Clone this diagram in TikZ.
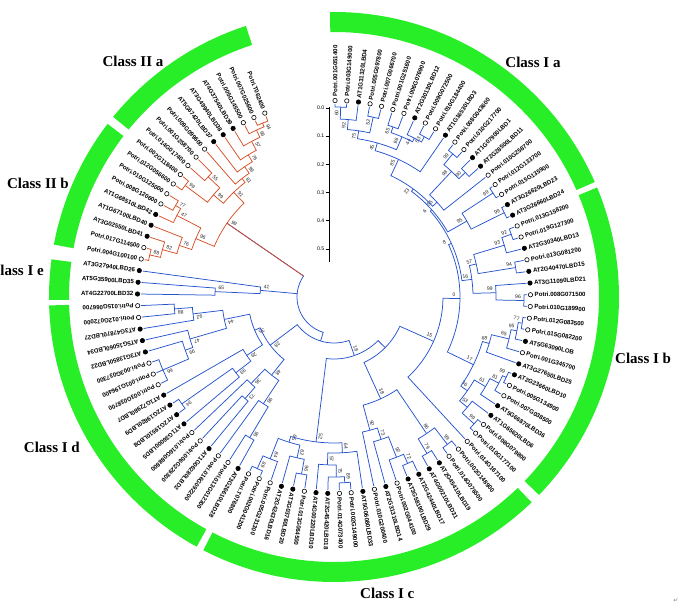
\documentclass[tikz,border=0pt]{standalone}
\usepackage{fontspec}
\setmainfont{Liberation Serif}
\setsansfont{Liberation Sans}
\newfontfamily\djv{DejaVu Sans}
\definecolor{bluebr}{RGB}{38,84,205}
\definecolor{redbr}{RGB}{214,78,38}
\definecolor{ringgreen}{RGB}{40,238,40}
\colorlet{k}{black}
\colorlet{w}{white}

\newcommand\leafn[3]{%
  \pgfmathsetmacro\lfA{89.7-(#1-1)*3.425}%
  \expandafter\xdef\csname ang@L#1\endcsname{\lfA}%
  \expandafter\xdef\csname rad@L#1\endcsname{193}%
  \ifdim\lfA pt<-180pt
    \pgfmathsetmacro\lfR{\lfA+180}\def\lfN{east}%
  \else
    \let\lfR\lfA\def\lfN{west}%
  \fi
  \node[leaf, rotate=\lfR, anchor=\lfN] (t#1) at (\lfA:200.5pt) {#3};%
  \node[mk, fill=#2] (m#1) at (\lfA:196.5pt) {};%
}

\newcommand\clade[5]{%
  \edef\clA{\csname ang@#4\endcsname}%
  \edef\clB{\csname ang@#5\endcsname}%
  \edef\clRA{\csname rad@#4\endcsname}%
  \edef\clRB{\csname rad@#5\endcsname}%
  \pgfmathsetmacro\clM{(\clA+\clB)/2}%
  \expandafter\xdef\csname ang@#1\endcsname{\clM}%
  \expandafter\xdef\csname rad@#1\endcsname{#2}%
  \draw[br] (\clA:\clRA pt) -- (\clA:#2pt) arc[start angle=\clA, end angle=\clB, radius=#2pt] -- (\clB:\clRB pt);%
  \coordinate (#1) at (\clM:#2pt);%
  \pgfmathsetmacro\clR{#2-6}%
  \ifdim\clM pt<-180pt
    \pgfmathsetmacro\clL{\clM-230/#2}\pgfmathsetmacro\clO{\clL+180}%
  \else
    \pgfmathsetmacro\clL{\clM+230/#2}\let\clO\clL
  \fi
  \node[boot, rotate=\clO] (b#1) at (\clL:\clR pt) {#3};%
}

\newcommand\mch[2]{%
  \edef\mcA{\csname ang@#2\endcsname}%
  \edef\mcR{\csname rad@#2\endcsname}%
  \edef\mcP{\csname rad@#1\endcsname}%
  \draw[br] (\mcA:\mcP pt) -- (\mcA:\mcR pt);%
}

\newcommand\ringseg[2]{%
  \fill[ringgreen] (#1:265pt) arc[start angle=#1, end angle=#2, radius=265pt] -- (#2:285pt) arc[start angle=#2, end angle=#1, radius=285pt] -- cycle;%
}

\begin{document}
\begin{tikzpicture}[x=1pt,y=1pt,
  leaf/.style={font=\sffamily\bfseries\fontsize{6.1}{7}\selectfont, inner sep=0pt},
  mk/.style={circle, draw=black, line width=0.6pt, inner sep=0pt, minimum size=4.4pt},
  boot/.style={font=\sffamily\fontsize{5.1}{5.5}\selectfont, inner sep=0pt, text=black!85},
  br/.style={draw=bluebr, line width=0.75pt},
  cls/.style={font=\rmfamily\bfseries\fontsize{15}{18}\selectfont, inner sep=0pt},
  scl/.style={font=\sffamily\fontsize{5.2}{6}\selectfont, inner sep=0.5pt}]
\useasboundingbox (0,0) rectangle (681,610);

\begin{scope}[shift={(334,313)}]
% ---- class ring ----
\ringseg{108.0}{140.8}
\ringseg{142.6}{169.4}
\ringseg{172.4}{180.6}
\ringseg{181.7}{241.2}
\ringseg{242.7}{313.9}
\ringseg{316.0}{382.6}
\ringseg{383.8}{450.8}

% ---- leaves ----
\leafn{1}{w}{Potri.001G051400}
\leafn{2}{w}{Potri.003G149000}
\leafn{3}{k}{AT1G31320LBD4}
\leafn{4}{w}{Potri.005G097800}
\leafn{5}{w}{Potri.007G066700}
\leafn{6}{w}{Potri.001G251600}
\leafn{7}{w}{Potri.006G076900}
\leafn{8}{k}{AT2G30130LBD12}
\leafn{9}{w}{Potri.009G072500}
\leafn{10}{w}{Potri.010G184400}
\leafn{11}{k}{AT1G16530LBD3}
\leafn{12}{w}{Potri.008G043600}
\leafn{13}{w}{Potri.010G217700}
\leafn{14}{k}{AT1G07900LBD1}
\leafn{15}{k}{AT2G28500LBD11}
\leafn{16}{w}{Potri.010G258700}
\leafn{17}{w}{Potri.012G133700}
\leafn{18}{w}{Potri.015G135900}
\leafn{19}{k}{AT3G26620LBD23}
\leafn{20}{k}{AT3G26660LBD24}
\leafn{21}{w}{Potri.013G158200}
\leafn{22}{w}{Potri.019G127300}
\leafn{23}{k}{AT2G30340LBD13}
\leafn{24}{w}{Potri.013G081200}
\leafn{25}{k}{AT2G40470LBD15}
\leafn{26}{k}{AT3G11090LBD21}
\leafn{27}{w}{Potri.008G071500}
\leafn{28}{w}{Potri.010G189900}
\leafn{29}{w}{Potri.012G083500}
\leafn{30}{w}{Potri.015G082200}
\leafn{31}{k}{AT5G63090LOB}
\leafn{32}{w}{Potri.001G345700}
\leafn{33}{k}{AT3G27650LBD25}
\leafn{34}{k}{AT2G23660LBD10}
\leafn{35}{w}{Potri.005G134900}
\leafn{36}{w}{Potri.007G038500}
\leafn{37}{k}{AT5G66870LBD36}
\leafn{38}{k}{AT1G65620LBD6}
\leafn{39}{w}{Potri.008G079800}
\leafn{40}{w}{Potri.010G177100}
\leafn{41}{w}{Potri.014G167100}
\leafn{42}{w}{Potri.002G148900}
\leafn{43}{w}{Potri.014G076500}
\leafn{44}{k}{AT2G45410LBD19}
\leafn{45}{k}{AT4G00210LBD31}
\leafn{46}{k}{AT2G42440LBD17}
\leafn{47}{k}{AT3G58190LBD29}
\leafn{48}{w}{Potri.002G044100}
\leafn{49}{k}{AT2G31310LBD14}
\leafn{50}{w}{Potri.010G200400}
\leafn{51}{k}{AT5G06080LBD33}
\leafn{52}{w}{Potri.002G149000}
\leafn{53}{w}{Potri.014G073400}
\leafn{54}{k}{AT2G45420LBD18}
\leafn{55}{k}{AT4G00220LBD30}
\leafn{56}{w}{Potri.013G064500}
\leafn{57}{k}{AT3G03760LBD20}
\leafn{58}{k}{AT2G42430LBD16}
\leafn{59}{w}{Potri.005G231300}
\leafn{60}{w}{Potri.002G041200}
\leafn{61}{w}{Potri.T076800}
\leafn{62}{k}{AT3G26610LBD28}
\leafn{63}{w}{Potri.013G012300}
\leafn{64}{w}{Potri.016G092200}
\leafn{65}{k}{AT1G06280LBD2}
\leafn{66}{w}{Potri.006G229300}
\leafn{67}{w}{Potri.016G088800}
\leafn{68}{k}{AT1G36000LBD5}
\leafn{69}{k}{AT2G19510LBD8}
\leafn{70}{k}{AT2G19820LBD9}
\leafn{71}{k}{AT1G72980LBD7}
\leafn{72}{w}{Potri.003G038700}
\leafn{73}{w}{Potri.001G196400}
\leafn{74}{w}{Potri.003G037300}
\leafn{75}{k}{AT3G13850LBD22}
\leafn{76}{k}{AT5G15060LBD34}
\leafn{77}{k}{AT3G47870LBD27}
\leafn{78}{w}{Potri.012G072000}
\leafn{79}{w}{Potri.015G066700}
\leafn{80}{k}{AT4G22700LBD32}
\leafn{81}{k}{AT5G35900LBD35}
\leafn{82}{k}{AT3G27940LBD26}
\leafn{83}{w}{Potri.004G100100}
\leafn{84}{w}{Potri.017G114500}
\leafn{85}{k}{AT3G02550LBD41}
\leafn{86}{k}{AT1G67100LBD40}
\leafn{87}{k}{AT1G68510LBD42}
\leafn{88}{w}{Potri.008G120600}
\leafn{89}{w}{Potri.010G125000}
\leafn{90}{w}{Potri.012G056600}
\leafn{91}{w}{Potri.002G118400}
\leafn{92}{w}{Potri.014G017400}
\leafn{93}{w}{Potri.001G258700}
\leafn{94}{w}{Potri.009G099600}
\leafn{95}{k}{AT5G67420LBD37}
\leafn{96}{k}{AT3G49940LBD38}
\leafn{97}{k}{AT4G37540LBD39}
\leafn{98}{w}{Potri.005G145500}
\leafn{99}{w}{Potri.007G025600}
\leafn{100}{w}{Potri.T062400}

% ---- Class I a / I b ----
\clade{c1}{190}{60}{L1}{L2}
\clade{c2}{178}{92}{c1}{L3}
\clade{c3}{184}{52}{L4}{L5}
\clade{c4}{168}{75}{c2}{c3}
\clade{c5}{180}{65}{L6}{L7}
\clade{c6}{184}{53}{L9}{L10}
\clade{c7}{178}{44}{L8}{c6}
\clade{c8}{174}{96}{c5}{c7}
\clade{c9}{160}{45}{c4}{c8}
\clade{n85}{152}{85}{c9}{L11}
\clade{c10}{186}{99}{L12}{L13}
\clade{c11}{181}{90}{L14}{L15}
\clade{c12}{172}{98}{c10}{c11}
\clade{n6}{140}{55}{c12}{L16}
\clade{n23}{134}{23}{n85}{n6}
\clade{c13}{190}{99}{L17}{L18}
\clade{c14}{190}{99}{L19}{L20}
\clade{c15}{153}{95}{c13}{c14}
\clade{g2}{131}{6}{n23}{c15}
\clade{c16}{188}{92}{L21}{L22}
\clade{c17}{178}{93}{c16}{L23}
\clade{c18}{184}{94}{L24}{L25}
\clade{c19}{146}{57}{c17}{c18}
\clade{c20}{190}{96}{L27}{L28}
\clade{c21}{162}{99}{L26}{c20}
\clade{c22}{139}{16}{c19}{c21}
\clade{g3}{129}{8}{g2}{c22}
\clade{c23}{190}{77}{L29}{L30}
\clade{c24}{186}{95}{c23}{L31}
\clade{c25}{180}{65}{c24}{L32}
\clade{c26}{162}{68}{c25}{L33}
\clade{c27}{190}{99}{L34}{L35}
\clade{c28}{186}{81}{c27}{L36}
\clade{c29}{176}{61}{c28}{L37}
\clade{c30}{189}{99}{L39}{L40}
\clade{c31}{173}{53}{L38}{c30}
\clade{c32}{163}{36}{c29}{c31}
\clade{c33}{155}{17}{c26}{c32}
\clade{Iab}{126}{0}{g3}{c33}
\clade{n15}{109}{15}{Iab}{L41}

% ---- Class I c ----
\clade{a1}{186}{99}{L42}{L43}
\clade{a2}{182}{79}{L44}{L45}
\clade{a3}{165}{86}{a1}{a2}
\clade{a4}{182}{72}{L46}{L47}
\clade{a5}{172}{92}{a4}{L48}
\clade{a7}{150}{73}{a5}{L49}
\clade{a8}{138}{92}{a7}{L50}
\clade{q1}{112}{38}{a3}{a8}
\clade{b1}{186}{89}{L52}{L53}
\clade{b2}{180}{75}{L54}{b1}
\clade{b3}{168}{57}{L55}{b2}
\clade{b4}{156}{64}{L51}{b3}
\clade{b5}{180}{96}{L56}{L57}
\clade{b6}{165}{62}{b5}{L58}
\clade{b7}{188}{89}{L60}{L61}
\clade{b8}{174}{84}{L59}{b7}
\clade{b9}{152}{65}{b6}{b8}
\clade{b10}{146}{52}{b4}{b9}

% ---- Class I d ----
\clade{d1}{160}{88}{L78}{L79}
\clade{d2}{142}{92}{L77}{d1}
\clade{d3}{186}{66}{L72}{L74}
\mch{d3}{L73}
\clade{d4}{158}{99}{d3}{L75}
\clade{d5}{150}{47}{d4}{L76}
\clade{n41}{112}{44}{d5}{d2}
\clade{d6}{186}{94}{L69}{L70}
\clade{d7}{124}{99}{L68}{d6}
\clade{d9}{164}{95}{L62}{L63}
\clade{d10}{128}{98}{d9}{L64}
\clade{d8}{135}{73}{L65}{L66}
\clade{d8b}{120}{36}{d8}{L67}
\clade{d13}{100}{48}{d10}{d8b}
\clade{d14}{105}{29}{d7}{L71}
\clade{d16}{86}{35}{d14}{n41}
\clade{d15}{80}{28}{d13}{d16}

% ---- Class I e ----
\clade{e1}{119}{65}{L80}{L81}
\clade{e2}{74}{41}{e1}{L82}

% ---- Class II (red) ----
\begin{scope}[br/.style={draw=redbr, line width=0.75pt}]
\clade{p1}{189}{88}{L83}{L84}
\clade{p2}{178}{82}{p1}{L85}
\clade{p3}{163}{76}{p2}{L86}
\clade{p4}{183}{77}{L88}{L89}
\clade{p5}{177}{47}{L87}{p4}
\clade{p6}{150}{96}{p3}{p5}
\clade{p7}{186}{99}{L90}{L91}
\clade{p8}{174}{55}{L92}{L93}
\clade{p9}{158}{99}{p7}{p8}
\clade{p10}{188}{94}{L99}{L100}
\clade{p11}{184}{66}{L98}{p10}
\clade{p12}{176}{57}{L97}{p11}
\clade{p13}{166}{76}{L96}{p12}
\clade{p14}{158}{99}{L95}{p13}
\clade{p15}{150}{81}{L94}{p14}
\clade{p16}{145}{91}{p9}{p15}
\clade{p17}{130}{99}{p6}{p16}
\end{scope}

% ---- backbone ----
\clade{S3}{72}{}{n15}{q1}
\clade{S2}{62}{18}{S3}{b10}
\clade{S1}{46}{}{S2}{d15}
\clade{S0}{37}{}{S1}{p17}
\mch{S0}{e2}
\edef\pA{\csname ang@p17\endcsname}
\draw[draw=redbr, line width=0.75pt] (\pA:37pt) -- (p17);
\end{scope}

% ---- scale bar ----
\draw[line width=0.8pt] (329,503) -- (329,348);
\foreach \k in {0,...,5}{
  \draw[line width=0.6pt] (325.5,{502-28.2*\k}) -- (329,{502-28.2*\k});
  \node[scl, anchor=east] (s\k) at (325,{502-28.2*\k}) {0.\k};
}

% ---- class labels ----
\node[cls] (la) at (533,548) {Class I a};
\node[cls] (l2a) at (133,549) {Class II a};
\node[cls] (l2b) at (38,427) {Class II b};
\node[cls, anchor=east] (le) at (44,340) {Class I e};
\node[cls, anchor=east] (ld) at (80,163) {Class I d};
\node[cls, anchor=west] (lb) at (615,252) {Class I b};
\node[cls, anchor=west] (lc) at (360,17) {Class I c};
\node[font=\djv\fontsize{6}{6}\selectfont, text=gray, inner sep=0pt] (rm) at (676,9) {↵};
\end{tikzpicture}
\end{document}
